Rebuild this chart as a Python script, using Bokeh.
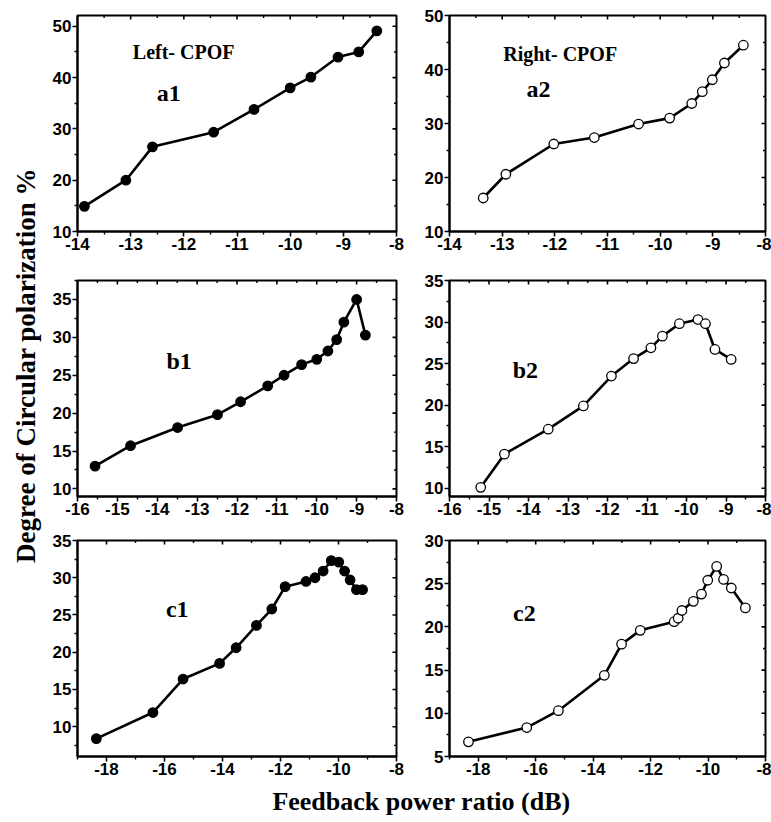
import math
from bokeh.plotting import figure
from bokeh.layouts import row, column
from bokeh.models import FixedTicker, Range1d, Label
from bokeh.embed import file_html
from bokeh.resources import INLINE

# ---------------- data ----------------
a1_x = [-13.87, -13.09, -12.59, -11.44, -10.68, -10.00, -9.61, -9.10, -8.71, -8.37]
a1_y = [14.9, 20.0, 26.5, 29.35, 33.8, 38.0, 40.1, 44.0, 45.0, 49.1]

a2_x = [-13.36, -12.93, -12.02, -11.25, -10.41, -9.82, -9.40, -9.20, -9.01, -8.78, -8.42]
a2_y = [16.2, 20.6, 26.2, 27.4, 29.9, 31.0, 33.7, 35.9, 38.1, 41.2, 44.5]

b1_x = [-15.56, -14.67, -13.49, -12.49, -11.91, -11.23, -10.82, -10.38, -10.00, -9.72, -9.50, -9.32, -9.00, -8.78]
b1_y = [13.0, 15.7, 18.1, 19.8, 21.5, 23.6, 25.0, 26.4, 27.1, 28.2, 29.7, 32.0, 35.0, 30.3]

b2_x = [-15.21, -14.61, -13.50, -12.61, -11.90, -11.34, -10.90, -10.61, -10.18, -9.71, -9.52, -9.28, -8.87]
b2_y = [10.1, 14.1, 17.1, 19.9, 23.5, 25.6, 26.9, 28.3, 29.8, 30.3, 29.8, 26.7, 25.5]

c1_x = [-18.35, -16.40, -15.36, -14.10, -13.53, -12.83, -12.30, -11.84, -11.12, -10.81, -10.53, -10.25, -9.99, -9.79, -9.60, -9.38, -9.17]
c1_y = [8.4, 11.9, 16.4, 18.5, 20.6, 23.6, 25.8, 28.8, 29.5, 30.0, 30.9, 32.3, 32.1, 30.9, 29.7, 28.4, 28.4]

c2_x = [-18.34, -16.31, -15.21, -13.61, -13.01, -12.36, -11.18, -11.04, -10.91, -10.51, -10.23, -10.01, -9.70, -9.46, -9.19, -8.70]
c2_y = [6.7, 8.35, 10.3, 14.4, 18.0, 19.6, 20.6, 21.0, 21.9, 22.96, 23.8, 25.4, 27.0, 25.5, 24.5, 22.2]

# tick values and labels
a_xticks = [-14, -13, -12, -11, -10, -9, -8]
a_xlabels = ["-14", "-13", "-12", "-11", "-10", "-9", "-8"]
a_xminor = [-13.5, -12.5, -11.5, -10.5, -9.5, -8.5]
a_yticks = [10, 20, 30, 40, 50]
a_yminor = [15, 25, 35, 45]
b_xticks = [-16, -15, -14, -13, -12, -11, -10, -9, -8]
b_xlabels = ["-16", "-15", "-14", "-13", "-12", "-11", "-10", "-9", "-8"]
b_xminor = [-15.5, -14.5, -13.5, -12.5, -11.5, -10.5, -9.5, -8.5]
b_yticks = [10, 15, 20, 25, 30, 35]
b_yminor = [12.5, 17.5, 22.5, 27.5, 32.5, 37.5]
c_xticks = [-18, -16, -14, -12, -10, -8]
c_xlabels = ["-18", "-16", "-14", "-12", "-10", "-8"]
c_xminor = [-19, -17, -15, -13, -11, -9]
c1_yticks = [10, 15, 20, 25, 30, 35]
c1_yminor = [7.5, 12.5, 17.5, 22.5, 27.5, 32.5]
c2_yticks = [5, 10, 15, 20, 25, 30]
c2_yminor = [7.5, 12.5, 17.5, 22.5, 27.5]

TICK_FONT = "Liberation Sans"
SERIF = "Liberation Serif"


def style_axis(ax, ticks, minor, labels=None):
    ax.ticker = FixedTicker(ticks=ticks, minor_ticks=minor)
    if labels is not None:
        ax.major_label_overrides = {t: s for t, s in zip(ticks, labels)}
    ax.axis_line_width = 2
    ax.axis_line_color = "black"
    ax.major_tick_line_width = 1.6
    ax.minor_tick_line_width = 1.4
    ax.major_tick_in = 0
    ax.minor_tick_in = 0
    ax.major_tick_out = 5
    ax.minor_tick_out = 3
    ax.major_label_text_font = TICK_FONT
    ax.major_label_text_font_style = "bold"
    ax.major_label_text_font_size = "17px"
    ax.major_label_text_color = "black"
    ax.major_label_standoff = 1


def panel(xs, ys, filled, xr, yr, xt, xl, xmt, yt, ymt, width, height, bl, br, bt, bb, texts):
    p = figure(width=width, height=height, x_range=Range1d(*xr), y_range=Range1d(*yr),
               output_backend="svg", toolbar_location=None,
               min_border_left=bl, min_border_right=br, min_border_top=bt, min_border_bottom=bb)
    p.grid.visible = False
    p.outline_line_color = "black"
    p.outline_line_width = 2
    p.background_fill_color = "white"
    p.border_fill_color = "white"
    style_axis(p.xaxis[0], xt, xmt, xl)
    style_axis(p.yaxis[0], yt, ymt)
    # mirrored ticks along the top and right frame edges (inside the frame)
    top_major = [t for t in xt if xr[0] < t < xr[1]]
    top_minor = [t for t in xmt if xr[0] < t < xr[1]]
    right_major = [t for t in yt if yr[0] < t < yr[1]]
    right_minor = [t for t in ymt if yr[0] < t < yr[1]]
    p.scatter(top_major, [yr[1]] * len(top_major), marker="dash", angle=math.pi / 2, size=8,
              line_color="black", line_width=1.6)
    p.scatter(top_minor, [yr[1]] * len(top_minor), marker="dash", angle=math.pi / 2, size=5,
              line_color="black", line_width=1.4)
    p.scatter([xr[1]] * len(right_major), right_major, marker="dash", size=8,
              line_color="black", line_width=1.6)
    p.scatter([xr[1]] * len(right_minor), right_minor, marker="dash", size=5,
              line_color="black", line_width=1.4)
    p.line(xs, ys, line_color="black", line_width=2.6)
    p.scatter(xs, ys, marker="circle", size=9.5,
              fill_color="black" if filled else "white",
              line_color="black", line_width=1.3)
    for (tx, ty, txt, fs) in texts:
        p.add_layout(Label(x=tx, y=ty, text=txt, text_font=SERIF, text_font_style="bold",
                           text_font_size=fs, text_align="left", text_baseline="middle",
                           text_color="black"))
    return p


LW, RW = 373, 350
rows = [(258, 15, 27), (263, 22, 25), (261, 19, 26)]

a1 = panel(a1_x, a1_y, True, (-14, -8), (10, 52.1), a_xticks, a_xlabels, a_xminor, a_yticks, a_yminor,
           LW, rows[0][0], 29, 25, rows[0][1], rows[0][2],
           [(-12.96, 45.0, "Left- CPOF", "20px"), (-12.51, 36.9, "a1", "24px")])
a2 = panel(a2_x, a2_y, False, (-14, -8), (10, 50), a_xticks, a_xlabels, a_xminor, a_yticks, a_yminor,
           RW, rows[0][0], 26, 6, rows[0][1], rows[0][2],
           [(-12.98, 42.9, "Right- CPOF", "20px"), (-12.54, 36.4, "a2", "24px")])
b1 = panel(b1_x, b1_y, True, (-16, -8), (9, 37.5), b_xticks, b_xlabels, b_xminor, b_yticks, b_yminor,
           LW, rows[1][0], 29, 25, rows[1][1], rows[1][2],
           [(-13.77, 26.9, "b1", "24px")])
b2 = panel(b2_x, b2_y, False, (-16, -8), (9, 35), b_xticks, b_xlabels, b_xminor, b_yticks, b_yminor,
           RW, rows[1][0], 26, 6, rows[1][1], rows[1][2],
           [(-14.40, 24.2, "b2", "24px")])
c1 = panel(c1_x, c1_y, True, (-19, -8), (6, 35), c_xticks, c_xlabels, c_xminor, c1_yticks, c1_yminor,
           LW, rows[2][0], 29, 25, rows[2][1], rows[2][2],
           [(-15.95, 25.75, "c1", "24px")])
c2 = panel(c2_x, c2_y, False, (-19, -8), (5, 30), c_xticks, c_xlabels, c_xminor, c2_yticks, c2_yminor,
           RW, rows[2][0], 26, 6, rows[2][1], rows[2][2],
           [(-16.79, 21.6, "c2", "24px")])

total_rows_h = sum(r[0] for r in rows)

ytitle = figure(width=48, height=total_rows_h, x_range=Range1d(0, 48), y_range=Range1d(total_rows_h, 0),
                output_backend="svg", toolbar_location=None, x_axis_type=None, y_axis_type=None,
                min_border=0)
ytitle.grid.visible = False
ytitle.outline_line_color = None
ytitle.add_layout(Label(x=25, y=365, text="Degree of Circular polarization %", angle=math.pi / 2,
                        text_font=SERIF, text_font_style="bold", text_font_size="27px",
                        text_align="center", text_baseline="middle", text_color="black"))

xtitle = figure(width=771, height=822 - total_rows_h, x_range=Range1d(0, 771),
                y_range=Range1d(822 - total_rows_h, 0),
                output_backend="svg", toolbar_location=None, x_axis_type=None, y_axis_type=None,
                min_border=0)
xtitle.grid.visible = False
xtitle.outline_line_color = None
xtitle.add_layout(Label(x=421, y=19, text="Feedback power ratio (dB)",
                        text_font=SERIF, text_font_style="bold", text_font_size="26px",
                        text_align="center", text_baseline="middle", text_color="black"))

layout = column(row(ytitle, column(a1, b1, c1, spacing=0), column(a2, b2, c2, spacing=0), spacing=0),
                xtitle, spacing=0)

open("out.html", "w").write(file_html(layout, INLINE))
